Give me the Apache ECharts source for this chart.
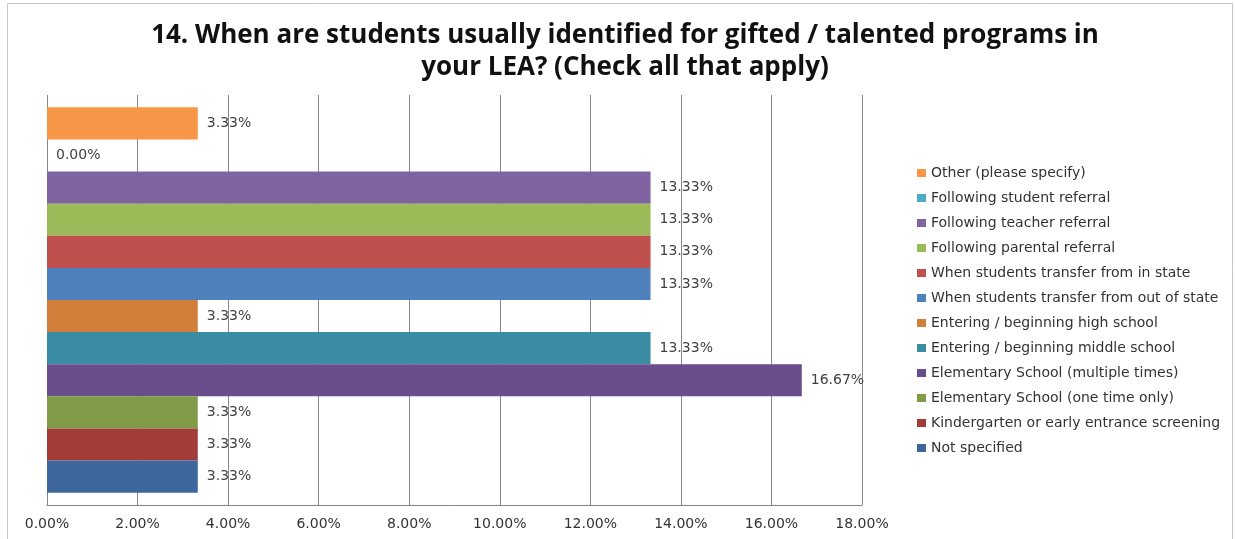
<!DOCTYPE html>
<html>
<head>
<meta charset="utf-8">
<script src="https://cdn.jsdelivr.net/npm/echarts@6/dist/echarts.min.js"></script>
<style>
  html, body { margin: 0; padding: 0; background: #fff; }
  #chart { width: 1235px; height: 539px; }
</style>
</head>
<body>
<div id="chart"></div>
<script>
// Response categories, listed from the bottom bar upwards
const categories = [
  'Not specified',
  'Kindergarten or early entrance screening',
  'Elementary School (one time only)',
  'Elementary School (multiple times)',
  'Entering / beginning middle school',
  'Entering / beginning high school',
  'When students transfer from out of state',
  'When students transfer from in state',
  'Following parental referral',
  'Following teacher referral',
  'Following student referral',
  'Other (please specify)'
];

// Share of respondents choosing each option (%)
const values = [3.33, 3.33, 3.33, 16.67, 13.33, 3.33, 13.33, 13.33, 13.33, 13.33, 0.00, 3.33];

const colors = [
  '#3d679c', '#a13c39', '#7f9b48', '#6a4d8b', '#3a8ca2', '#d17e3b',
  '#4f81bd', '#c0504d', '#9bbb59', '#8064a2', '#4bacc6', '#f79646'
];

// Percentage tick labels along the value axis
const tickValues = [0, 2, 4, 6, 8, 10, 12, 14, 16, 18];

const labelFont = 'DejaVu Sans';

// Series inside one category stack from the top down, so add them top bar first
const series = [];
for (let i = categories.length - 1; i >= 0; i--) {
  series.push({
    name: categories[i],
    type: 'bar',
    data: [values[i]],
    barGap: '0%',
    barCategoryGap: '6%',
    itemStyle: { color: colors[i] },
    label: {
      show: true,
      position: 'right',
      distance: 9,
      formatter: p => p.value.toFixed(2) + '%',
      fontFamily: labelFont,
      fontSize: 14,
      color: '#404040'
    }
  });
}

const chart = echarts.init(document.getElementById('chart'));
chart.setOption({
  animation: false,
  title: {
    text: '14. When are students usually identified for gifted / talented programs in\nyour LEA? (Check all that apply)',
    left: 620,
    top: 15,
    textAlign: 'center',
    textStyle: {
      fontFamily: '"Open Sans"',
      fontWeight: 'bold',
      fontSize: 26,
      lineHeight: 32,
      color: '#111'
    }
  },
  legend: {
    orient: 'vertical',
    left: 917,
    top: 166,
    padding: 0,
    itemWidth: 9,
    itemHeight: 8,
    itemGap: 11,
    icon: 'rect',
    data: categories.slice().reverse(),
    textStyle: {
      fontFamily: labelFont,
      fontSize: 14,
      lineHeight: 14,
      color: '#333'
    }
  },
  grid: { left: 47, right: 373, top: 95, bottom: 34, containLabel: false },
  xAxis: {
    type: 'value',
    min: tickValues[0],
    max: tickValues[tickValues.length - 1],
    interval: 2,
    axisLine: { show: true, lineStyle: { color: '#868686' } },
    axisTick: { show: false },
    splitLine: { show: true, lineStyle: { color: '#868686', width: 1 } },
    axisLabel: {
      margin: 12,
      fontFamily: labelFont,
      fontSize: 14,
      color: '#333',
      formatter: v => v.toFixed(2) + '%'
    }
  },
  yAxis: {
    type: 'category',
    data: ['all'],
    axisLine: { show: false },
    axisTick: { show: false },
    axisLabel: { show: false }
  },
  graphic: [{
    type: 'rect',
    shape: { x: 7.5, y: 3.5, width: 1225, height: 545 },
    style: { fill: 'none', stroke: '#c4c4c4', lineWidth: 1 },
    silent: true
  }],
  series: series
});
</script>
</body>
</html>
